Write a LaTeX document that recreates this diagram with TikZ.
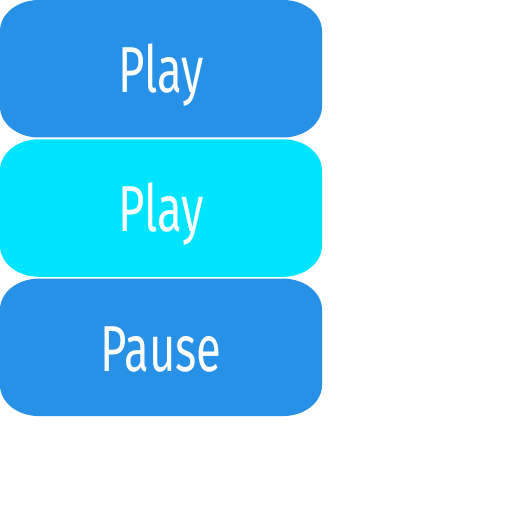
\documentclass[tikz,border=0pt]{standalone}
\usepackage{fontspec}
\newfontfamily\btnfont[FakeStretch=0.7]{Fira Sans}
\definecolor{btnblue}{HTML}{2791E7}
\definecolor{btncyan}{HTML}{00E5FF}
\begin{document}
\begin{tikzpicture}[x=1pt,y=1pt,
  lbl/.style={text=white, inner sep=0pt, anchor=base, font=\btnfont\fontsize{65}{70}\selectfont},
  ]
\useasboundingbox (0,0) rectangle (512,512);
\def\rx{39}\def\ry{31}
\foreach \T/\c in {512/btnblue,372.7/btncyan,233.4/btnblue}{
  \pgfmathsetmacro{\B}{\T-137.5}
  \fill[\c] (\rx,\T) -- (322-\rx,\T)
    arc[start angle=90,end angle=0,x radius=\rx,y radius=\ry]
    -- (322,\B+\ry)
    arc[start angle=0,end angle=-90,x radius=\rx,y radius=\ry]
    -- (\rx,\B)
    arc[start angle=270,end angle=180,x radius=\rx,y radius=\ry]
    -- (0,\T-\ry)
    arc[start angle=180,end angle=90,x radius=\rx,y radius=\ry] -- cycle;
}
\node[lbl] (t1) at (161,419) {Play};
\node[lbl] (t2) at (161,280) {Play};
\node[lbl] (t3) at (161,140) {Pause};
\end{tikzpicture}
\end{document}
